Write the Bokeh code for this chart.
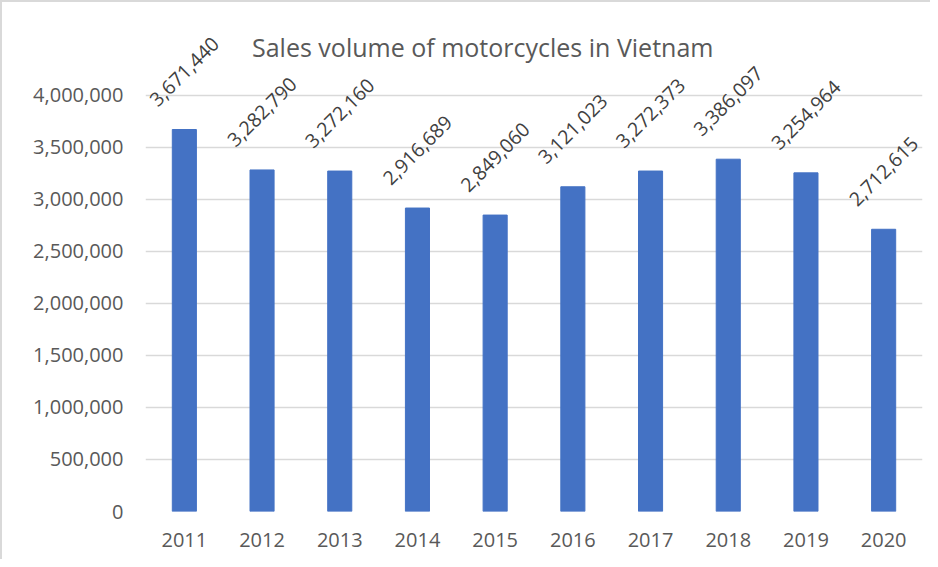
import math
from bokeh.plotting import figure
from bokeh.models import ColumnDataSource, FactorRange, Range1d, FixedTicker, NumeralTickFormatter, Label, LabelSet
from bokeh.core.properties import value
from bokeh.embed import file_html
from bokeh.resources import INLINE

years = ["2011", "2012", "2013", "2014", "2015", "2016", "2017", "2018", "2019", "2020"]
sales = [3671440, 3282790, 3272160, 2916689, 2849060, 3121023, 3272373, 3386097, 3254964, 2712615]
y_ticks = [0, 500000, 1000000, 1500000, 2000000, 2500000, 3000000, 3500000, 4000000]
title_text = "Sales volume of motorcycles in Vietnam"

labels = [f"{v:,}" for v in sales]
src = ColumnDataSource(dict(year=years, sales=sales, label=labels))

FONT = "Open Sans"
GREY = "#595959"

p = figure(width=930, height=559, x_range=FactorRange(*years, range_padding=0),
           y_range=Range1d(0, 4700000), output_backend="svg", toolbar_location=None,
           min_border_left=143, min_border_right=10, min_border_top=20, min_border_bottom=50)
p.styles = {"border-left": "2px solid #D9D9D9", "border-top": "2px solid #D9D9D9", "box-sizing": "border-box"}

p.vbar(x="year", top="sales", width=0.31, source=src, fill_color="#4472C4", line_color="#4472C4")
p.add_layout(LabelSet(x="year", y="sales", text="label", source=src, angle=math.pi / 4,
                      text_align="center", text_baseline="middle", y_offset=58,
                      text_font=value(FONT), text_font_size=value("19.5px"), text_color="#404040"))

p.add_layout(Label(x=4.34, y=4460000, text=title_text, text_align="center", text_baseline="middle",
                   text_font=FONT, text_font_size="25px", text_color=GREY))

p.outline_line_color = None
p.xgrid.grid_line_color = None
p.ygrid.grid_line_color = "#D9D9D9"
p.ygrid.grid_line_width = 1.5
p.yaxis.ticker = FixedTicker(ticks=y_ticks)
p.yaxis.formatter = NumeralTickFormatter(format="0,0")
for ax in (p.xaxis[0], p.yaxis[0]):
    ax.axis_line_color = None
    ax.major_tick_line_color = None
    ax.minor_tick_line_color = None
    ax.major_tick_out = 0
    ax.major_tick_in = 0
    ax.major_label_text_font = FONT
    ax.major_label_text_font_size = "20px"
    ax.major_label_text_color = GREY
p.yaxis.major_label_standoff = 22
p.xaxis.major_label_standoff = 21
p.xaxis.group_text_font_size = "0px"

open("out.html", "w").write(file_html(p, INLINE))
